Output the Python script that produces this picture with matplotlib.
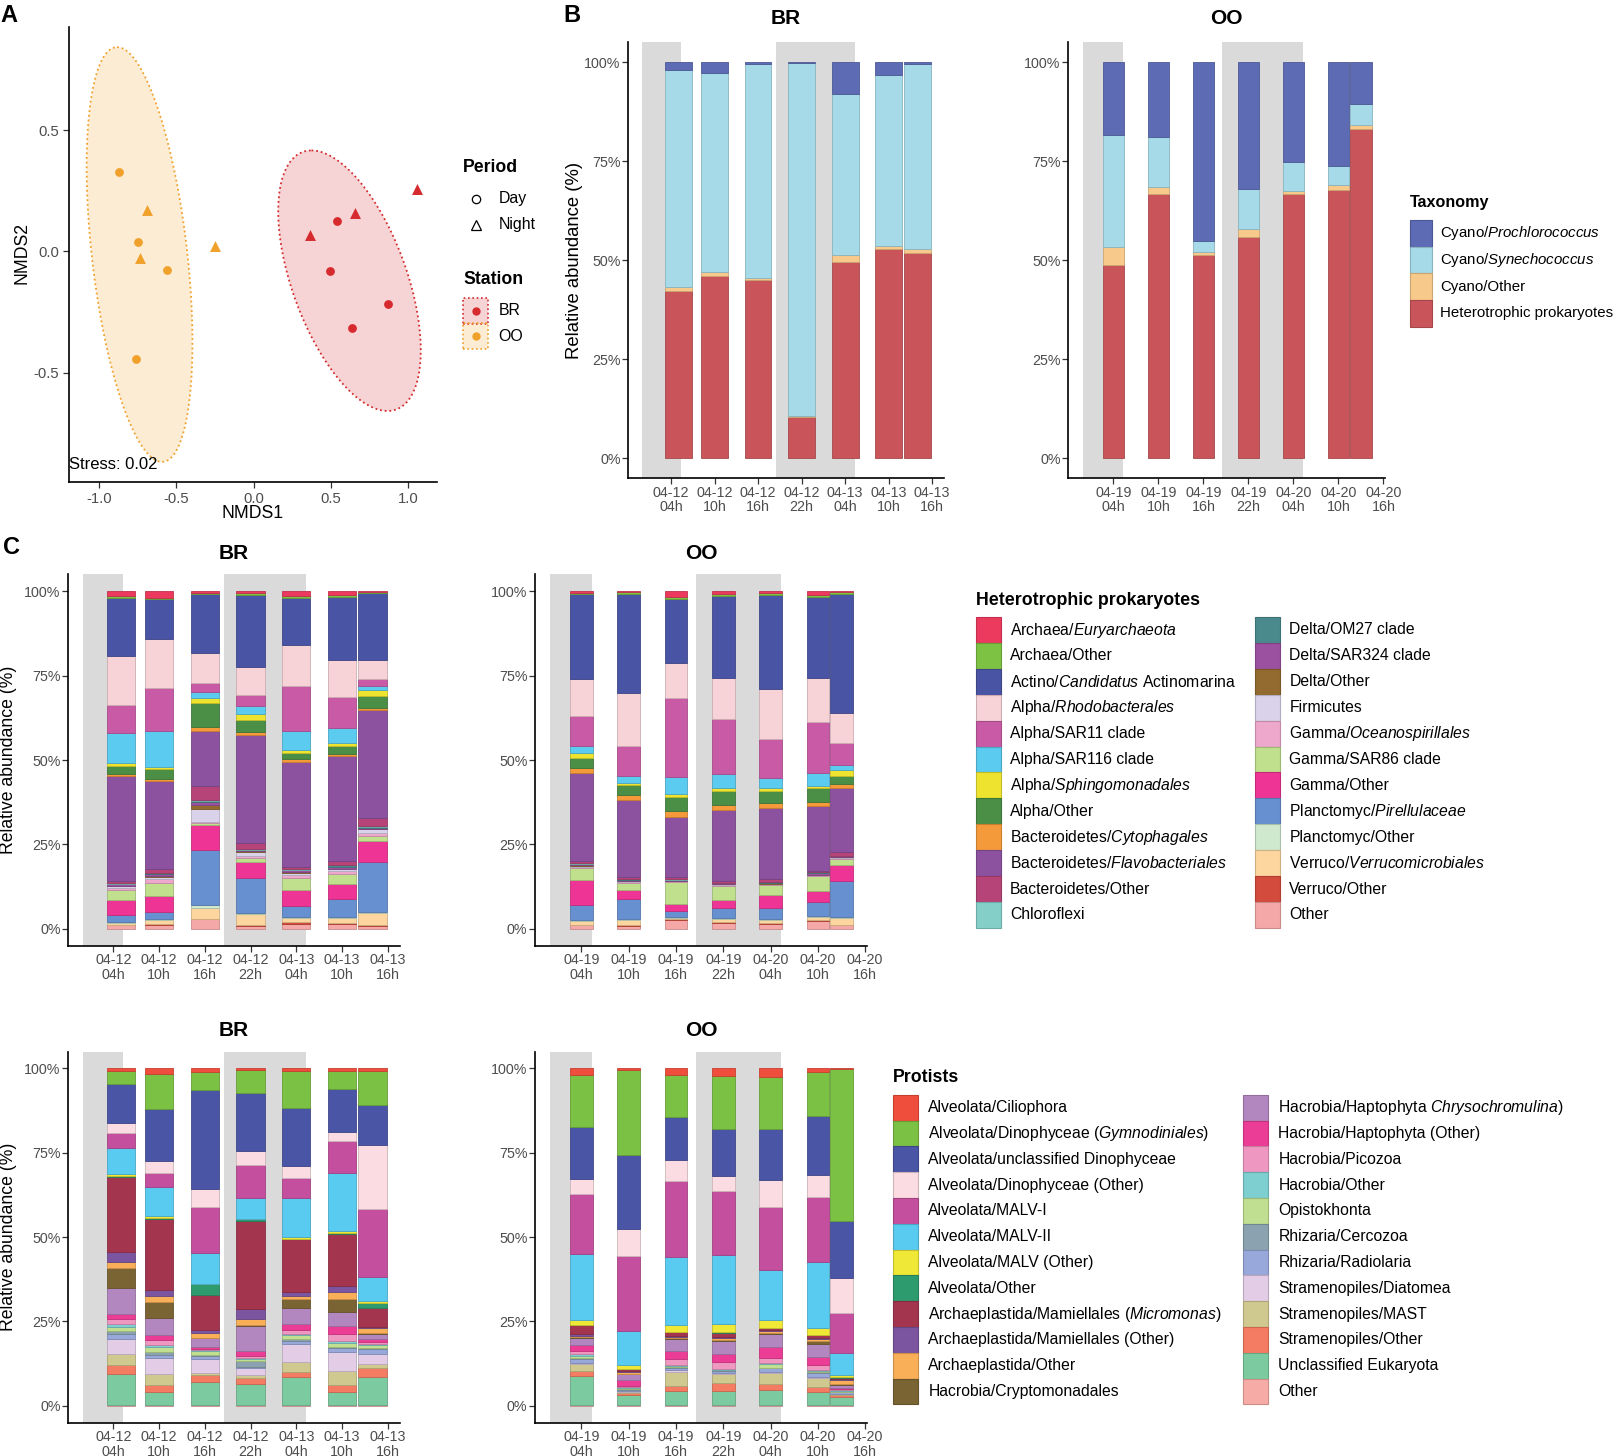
import numpy as np
import matplotlib
matplotlib.use("Agg")
import matplotlib.pyplot as plt
from matplotlib.patches import Rectangle, Polygon
from matplotlib.lines import Line2D
import matplotlib.colors as mcolors

plt.rcParams['font.family'] = ['Liberation Sans', 'DejaVu Sans']
plt.rcParams['mathtext.fontset'] = 'custom'
plt.rcParams['mathtext.rm'] = 'Liberation Sans'
plt.rcParams['mathtext.it'] = 'Liberation Sans:italic'
plt.rcParams['mathtext.bf'] = 'Liberation Sans:bold'

# ======================= DATA =======================
# ---- Panel A: NMDS ----
nmds_station = ['OO'] * 7 + ['BR'] * 7
nmds_period = ['Day', 'Day', 'Day', 'Day', 'Night', 'Night', 'Night',
               'Day', 'Day', 'Day', 'Day', 'Night', 'Night', 'Night']
nmds1 = [-0.871, -0.751, -0.564, -0.762, -0.691, -0.735, -0.254,
         0.539, 0.490, 0.866, 0.634, 1.053, 0.657, 0.361]
nmds2 = [0.328, 0.038, -0.078, -0.444, 0.172, -0.028, 0.022,
         0.126, -0.081, -0.218, -0.317, 0.258, 0.159, 0.066]
stress_text = 'Stress: 0.02'
station_colors = {'BR': '#D62A2E', 'OO': '#F0A12C'}
# 95% ellipses: centre, first and second half-axis vectors
ellipse_center = {'OO': (-0.739, -0.013), 'BR': (0.619, -0.121)}
ellipse_axis1 = {'OO': (-0.145, 0.855), 'BR': (-0.246, 0.537)}
ellipse_axis2 = {'OO': (0.31, 0.0), 'BR': (0.39, 0.0)}

# ---- time axes shared by B and C ----
br_hours = [1, 6, 12, 18, 24, 30, 34]
oo_hours = [0, 6, 12, 18, 24, 30, 33]
tick_hours = [0, 6, 12, 18, 24, 30, 36]
br_ticklabels = ['04-12\n04h', '04-12\n10h', '04-12\n16h', '04-12\n22h',
                 '04-13\n04h', '04-13\n10h', '04-13\n16h']
oo_ticklabels = ['04-19\n04h', '04-19\n10h', '04-19\n16h', '04-19\n22h',
                 '04-20\n04h', '04-20\n10h', '04-20\n16h']
night_periods = [(-4.0, 1.3), (14.5, 25.3)]
pct_ticks = [0, 25, 50, 75, 100]

# ---- Panel B: cyanobacteria vs heterotrophs (per sample: Pro, Syn, Other, Het) ----
cyano_labels = [r'Cyano/$\mathit{Prochlorococcus}$', r'Cyano/$\mathit{Synechococcus}$',
                'Cyano/Other', 'Heterotrophic prokaryotes']
cyano_colors = ['#5D6BB4', '#A6DAE8', '#F7C98A', '#C9555B']
cyano_BR = [[2.1, 54.8, 1.0, 42.1],
            [2.8, 50.2, 1.0, 46.0],
            [0.4, 54.2, 0.4, 45.0],
            [0.3, 89.1, 0.1, 10.5],
            [8.0, 40.7, 1.8, 49.5],
            [3.2, 43.2, 0.7, 52.9],
            [0.6, 46.7, 0.9, 51.8]]
cyano_OO = [[18.3, 28.5, 4.4, 48.8],
            [18.9, 12.6, 1.8, 66.7],
            [45.1, 2.8, 0.7, 51.4],
            [32.0, 10.2, 2.0, 55.8],
            [25.2, 7.3, 0.9, 66.6],
            [26.3, 4.8, 1.2, 67.7],
            [10.7, 5.2, 1.0, 83.1]]

# ---- Panel C (top): heterotrophic prokaryotes ----
het_labels = [r'Archaea/$\mathit{Euryarchaeota}$', 'Archaea/Other',
              r'Actino/$\mathit{Candidatus}$ Actinomarina', r'Alpha/$\mathit{Rhodobacterales}$',
              'Alpha/SAR11 clade', 'Alpha/SAR116 clade', r'Alpha/$\mathit{Sphingomonadales}$',
              'Alpha/Other', r'Bacteroidetes/$\mathit{Cytophagales}$',
              r'Bacteroidetes/$\mathit{Flavobacteriales}$', 'Bacteroidetes/Other', 'Chloroflexi',
              'Delta/OM27 clade', 'Delta/SAR324 clade', 'Delta/Other', 'Firmicutes',
              r'Gamma/$\mathit{Oceanospirillales}$', 'Gamma/SAR86 clade', 'Gamma/Other',
              r'Planctomyc/$\mathit{Pirellulaceae}$', 'Planctomyc/Other',
              r'Verruco/$\mathit{Verrucomicrobiales}$', 'Verruco/Other', 'Other']
het_colors = ['#EC3A5E', '#7DC242', '#4A54A5', '#F7D3D8', '#C95BA6', '#5BCBEF',
              '#EEE42F', '#4B8F47', '#F59A3A', '#8C52A0', '#B64478', '#84D0C9',
              '#4A8A8C', '#9B50A0', '#936A2F', '#D9D2EA', '#EDA8CB', '#C0E08E',
              '#EE3595', '#6690D0', '#CFE9CF', '#FDD69F', '#D34B3C', '#F5A8A8']
het_BR = [[1.5, 0.5, 17.2, 14.4, 8.4, 8.8, 1.0, 2.3, 0.6, 31.1, 0.6, 0.2, 0.1, 0.3, 0.1, 0.6, 0.6, 3.0, 4.4, 2.2, 0.2, 0.6, 0.1, 1.0],
          [1.9, 0.4, 11.9, 14.3, 12.8, 10.7, 0.6, 2.9, 0.7, 26.0, 1.0, 0.2, 0.3, 0.5, 0.2, 0.8, 1.2, 3.7, 4.7, 2.1, 0.2, 1.3, 0.2, 1.2],
          [0.4, 0.5, 17.4, 8.9, 2.8, 1.6, 1.4, 7.1, 1.2, 16.3, 4.3, 0.2, 0.3, 0.8, 1.2, 4.0, 0.4, 0.4, 7.5, 16.3, 0.8, 3.3, 0.1, 2.8],
          [0.5, 0.6, 21.5, 8.1, 3.3, 2.3, 2.0, 3.5, 0.7, 32.3, 1.6, 0.2, 0.2, 0.3, 0.1, 1.2, 0.6, 1.2, 4.9, 10.4, 0.2, 3.4, 0.3, 0.7],
          [1.5, 0.6, 13.8, 12.2, 13.3, 5.7, 0.7, 1.9, 0.7, 31.3, 0.6, 0.1, 0.2, 0.6, 0.2, 0.5, 1.0, 3.6, 4.6, 3.3, 0.2, 1.4, 0.4, 1.5],
          [1.2, 0.5, 18.6, 11.1, 9.1, 4.5, 0.8, 2.4, 0.7, 31.0, 1.0, 0.2, 0.4, 0.6, 0.2, 0.6, 0.8, 2.8, 4.5, 5.4, 0.3, 1.4, 0.5, 1.3],
          [0.2, 0.4, 19.7, 5.6, 2.1, 1.2, 1.9, 3.3, 0.8, 31.7, 2.4, 0.3, 0.3, 0.3, 0.2, 1.2, 0.8, 1.3, 6.3, 14.8, 0.2, 3.8, 0.1, 0.9]]
het_OO = [[0.5, 0.2, 25.2, 11.2, 8.7, 2.2, 1.5, 3.0, 1.3, 26.1, 0.8, 0.1, 0.2, 0.3, 0.1, 0.3, 0.3, 3.6, 7.3, 4.6, 0.2, 1.2, 0.1, 1.1],
          [0.3, 0.4, 29.5, 15.8, 8.9, 2.0, 0.7, 2.7, 1.6, 22.9, 0.5, 0.1, 0.1, 0.3, 0.1, 0.2, 0.3, 2.3, 2.5, 6.1, 0.2, 1.5, 0.3, 0.8],
          [1.7, 0.5, 19.1, 10.4, 23.4, 5.2, 0.7, 4.3, 1.7, 18.0, 0.6, 0.1, 0.1, 0.2, 0.1, 0.1, 0.2, 6.6, 2.0, 1.8, 0.2, 0.3, 0.4, 2.6],
          [0.9, 0.6, 24.4, 12.1, 16.4, 4.0, 0.9, 4.1, 1.7, 21.0, 0.5, 0.1, 0.1, 0.2, 0.1, 0.2, 0.3, 4.0, 2.5, 3.1, 0.2, 1.0, 0.3, 1.6],
          [0.5, 0.6, 28.1, 14.7, 11.7, 3.0, 1.0, 3.5, 1.6, 21.2, 0.7, 0.1, 0.1, 0.2, 0.1, 0.1, 0.2, 3.2, 3.8, 3.3, 0.2, 1.1, 0.2, 1.4],
          [1.2, 0.5, 24.0, 12.9, 15.0, 3.8, 0.8, 4.0, 1.3, 19.0, 0.3, 0.1, 0.2, 0.6, 0.1, 0.1, 0.2, 4.3, 3.3, 4.2, 0.2, 1.1, 0.3, 2.2],
          [0.3, 0.4, 35.6, 8.9, 6.6, 1.5, 1.8, 2.5, 1.1, 19.2, 1.0, 0.1, 0.1, 0.2, 0.1, 0.2, 0.2, 1.8, 4.8, 10.7, 0.3, 2.2, 0.1, 1.0]]

# ---- Panel C (bottom): protists ----
pro_labels = ['Alveolata/Ciliophora', r'Alveolata/Dinophyceae ($\mathit{Gymnodiniales}$)',
              'Alveolata/unclassified Dinophyceae', 'Alveolata/Dinophyceae (Other)',
              'Alveolata/MALV-I', 'Alveolata/MALV-II', 'Alveolata/MALV (Other)', 'Alveolata/Other',
              r'Archaeplastida/Mamiellales ($\mathit{Micromonas}$)', 'Archaeplastida/Mamiellales (Other)',
              'Archaeplastida/Other', 'Hacrobia/Cryptomonadales',
              r'Hacrobia/Haptophyta $\mathit{Chrysochromulina}$)', 'Hacrobia/Haptophyta (Other)',
              'Hacrobia/Picozoa', 'Hacrobia/Other', 'Opistokhonta', 'Rhizaria/Cercozoa',
              'Rhizaria/Radiolaria', 'Stramenopiles/Diatomea', 'Stramenopiles/MAST',
              'Stramenopiles/Other', 'Unclassified Eukaryota', 'Other']
pro_colors = ['#F04E3C', '#7BC143', '#4B55A6', '#FADCE2', '#C44F9E', '#59CBF0',
              '#F0E836', '#2E9B6E', '#A3354F', '#7B55A0', '#F9AE58', '#7A6433',
              '#B286BE', '#EC3D96', '#EE97C1', '#7ECFD0', '#C0DF90', '#8BA3B0',
              '#98A8DA', '#E2CCE6', '#D0C98F', '#F47C62', '#7CCBA0', '#F7ABA6']
pro_BR = [[0.8, 3.9, 11.5, 3.0, 4.4, 7.8, 0.6, 0.1, 22.4, 3.1, 1.7, 5.9, 7.6, 1.6, 1.5, 0.9, 1.0, 1.0, 1.4, 4.5, 3.3, 2.7, 9.3, 0.1],
          [1.6, 10.4, 15.6, 3.4, 4.2, 8.7, 0.6, 0.3, 21.1, 1.5, 1.9, 4.7, 5.0, 1.5, 1.7, 0.6, 1.5, 0.6, 0.9, 4.9, 3.2, 2.0, 4.1, 0.1],
          [1.1, 5.2, 29.4, 5.5, 13.6, 9.1, 0.1, 3.3, 10.3, 0.8, 1.4, 0.2, 2.5, 0.6, 0.4, 0.3, 1.2, 0.3, 0.7, 4.4, 0.5, 2.0, 7.0, 0.1],
          [0.4, 6.8, 17.4, 4.1, 9.9, 6.1, 0.2, 0.4, 26.3, 3.0, 1.7, 0.3, 7.5, 1.4, 0.7, 0.3, 0.7, 1.7, 0.3, 2.0, 1.0, 1.7, 6.4, 0.1],
          [0.9, 10.8, 17.2, 3.7, 5.9, 11.5, 0.6, 0.2, 15.6, 1.2, 1.0, 2.6, 4.7, 1.8, 1.2, 0.3, 1.3, 0.4, 1.0, 5.4, 3.0, 1.3, 8.5, 0.1],
          [0.7, 5.3, 12.8, 2.7, 9.7, 17.0, 0.8, 0.2, 15.4, 1.7, 2.3, 3.7, 4.2, 2.5, 1.9, 0.8, 1.0, 0.3, 1.2, 5.7, 4.1, 2.0, 4.1, 0.1],
          [0.8, 10.2, 11.6, 19.0, 20.2, 7.2, 0.5, 1.7, 5.4, 0.4, 1.6, 0.3, 1.5, 0.8, 0.6, 0.2, 1.1, 0.3, 1.4, 3.0, 1.0, 2.8, 8.4, 0.1]]
pro_OO = [[1.9, 15.6, 15.3, 4.4, 17.9, 19.7, 1.3, 0.1, 2.6, 0.5, 0.5, 0.3, 1.9, 1.8, 0.9, 0.6, 0.7, 0.3, 1.0, 0.4, 2.0, 1.6, 8.7, 0.1],
          [0.6, 25.0, 22.2, 7.8, 22.3, 10.1, 1.3, 0.1, 0.5, 0.2, 0.6, 0.2, 1.8, 1.5, 0.4, 0.4, 0.3, 0.2, 0.3, 0.2, 0.3, 0.7, 3.1, 0.1],
          [1.9, 12.5, 12.8, 6.1, 22.7, 20.0, 2.0, 0.1, 1.1, 0.3, 0.3, 0.4, 3.5, 2.5, 1.5, 0.3, 0.3, 0.3, 0.8, 0.4, 4.2, 1.5, 4.3, 0.1],
          [2.4, 15.6, 13.9, 4.4, 18.8, 20.5, 2.5, 0.1, 1.3, 0.3, 0.6, 0.3, 3.8, 2.3, 2.0, 0.3, 0.2, 0.3, 0.6, 0.3, 2.7, 2.2, 4.3, 0.1],
          [2.6, 15.3, 15.1, 8.1, 18.8, 14.8, 2.2, 0.1, 0.6, 0.3, 0.5, 0.3, 4.1, 3.0, 1.7, 0.3, 1.0, 0.2, 1.0, 0.3, 3.4, 1.6, 4.7, 0.1],
          [1.2, 12.9, 17.4, 6.6, 19.5, 19.4, 2.0, 0.1, 0.8, 0.3, 0.7, 1.0, 3.8, 2.4, 1.3, 0.3, 0.3, 0.3, 1.2, 0.3, 2.7, 1.5, 4.0, 0.1],
          [0.1, 45.5, 17.3, 10.2, 12.2, 6.5, 0.7, 0.2, 0.3, 0.3, 1.2, 0.3, 0.8, 0.4, 0.3, 0.2, 0.3, 0.2, 0.4, 0.2, 0.2, 0.5, 2.6, 0.1]]

# ======================= FIGURE =======================
W, H = 1617, 1456
fig = plt.figure(figsize=(W / 100, H / 100), dpi=100)


def fx(x):
    return x / W


def fy(y):
    return 1 - y / H


def px_axes(l, t, r, b):
    return fig.add_axes([l / W, 1 - b / H, (r - l) / W, (b - t) / H])


def darker(c, f=0.82):
    r, g, b = mcolors.to_rgb(c)
    return (r * f, g * f, b * f)


def style_axes(ax):
    for s in ['top', 'right']:
        ax.spines[s].set_visible(False)
    for s in ['left', 'bottom']:
        ax.spines[s].set_linewidth(1.2)
        ax.spines[s].set_color('black')
    ax.tick_params(length=4, width=0.9, color='#333333', labelcolor='#4D4D4D',
                   labelsize=10.3, pad=1.5)


def bar_panel(ax, hours, width, samples, colors, xlim, ticklabels):
    vals = np.array(samples, float)
    vals = vals / vals.sum(axis=1, keepdims=True) * 100.0
    for a, b in night_periods:
        ax.axvspan(a, b, color='#DADADA', lw=0, zorder=0)
    bottom = np.zeros(len(hours))
    for k in range(vals.shape[1] - 1, -1, -1):
        ax.bar(hours, vals[:, k], width=width, bottom=bottom, color=colors[k],
               edgecolor=darker(colors[k]), linewidth=0.6, zorder=2)
        bottom += vals[:, k]
    ax.set_xlim(*xlim)
    ax.set_ylim(-5, 105)
    ax.set_xticks(tick_hours)
    ax.set_xticklabels(ticklabels, linespacing=1.05)
    ax.set_yticks(pct_ticks)
    ax.set_yticklabels([f'{p}%' for p in pct_ticks])
    style_axes(ax)


def ellipse_points(center, a1, a2, segments=120):
    t = np.linspace(0, 2 * np.pi, segments + 1)
    c = np.array(center)
    return (c[None, :] + np.cos(t)[:, None] * np.array(a1)[None, :]
            + np.sin(t)[:, None] * np.array(a2)[None, :])


# ---------------- Panel A ----------------
axA = px_axes(68.9, 26.7, 437.3, 482.3)
n1 = np.array(nmds1)
n2 = np.array(nmds2)
for st in ['OO', 'BR']:
    col = station_colors[st]
    idx = [i for i, s in enumerate(nmds_station) if s == st]
    E = ellipse_points(ellipse_center[st], ellipse_axis1[st], ellipse_axis2[st])
    axA.add_patch(Polygon(E, closed=True, facecolor=col, alpha=0.2, lw=0, zorder=1))
    axA.add_patch(Polygon(E, closed=True, fill=False, edgecolor=col, lw=1.3,
                          ls=(0, (1, 1.6)), zorder=1.5))
    for per, mk, sz in [('Day', 'o', 40), ('Night', '^', 62)]:
        j = [i for i in idx if nmds_period[i] == per]
        axA.scatter(n1[j], n2[j], marker=mk, s=sz, color=col, lw=0, zorder=3)
axA.set_xlim(-1.196, 1.187)
axA.set_ylim(-0.952, 0.926)
axA.set_xticks([-1.0, -0.5, 0.0, 0.5, 1.0])
axA.set_xticklabels(['-1.0', '-0.5', '0.0', '0.5', '1.0'])
axA.set_yticks([-0.5, 0.0, 0.5])
axA.set_yticklabels(['-0.5', '0.0', '0.5'])
style_axes(axA)
axA.tick_params(labelsize=10.7, pad=3)
axA.text(0.0, 0.038, stress_text, transform=axA.transAxes, ha='left', va='center',
         fontsize=12, color='black', zorder=4)
fig.text(fx(253), fy(513), 'NMDS1', ha='center', va='center', fontsize=12.7)
fig.text(fx(21.5), fy(253), 'NMDS2', ha='center', va='center', fontsize=12.7, rotation=90)

# legend A
fig.text(fx(463), fy(168), 'Period', ha='left', va='center', fontsize=12.7, weight='bold')
for lab, mk, yy, ms in [('Day', 'o', 199, 6.0), ('Night', '^', 225, 7.0)]:
    fig.add_artist(Line2D([fx(475.5)], [fy(yy)], marker=mk, markersize=ms, markerfacecolor='none',
                          markeredgecolor='black', markeredgewidth=0.9, transform=fig.transFigure))
    fig.text(fx(498.6), fy(yy), lab, ha='left', va='center', fontsize=11.4)
fig.text(fx(463), fy(280), 'Station', ha='left', va='center', fontsize=12.7, weight='bold')
for st, top in [('BR', 298), ('OO', 323.5)]:
    col = station_colors[st]
    fig.add_artist(Rectangle((fx(463), fy(top + 25.5)), 25 / W, 25.5 / H, transform=fig.transFigure,
                             facecolor=col, alpha=0.2, lw=0))
    fig.add_artist(Rectangle((fx(463), fy(top + 25.5)), 25 / W, 25.5 / H, transform=fig.transFigure,
                             fill=False, edgecolor=col, lw=1.2, ls=(0, (1, 1.6))))
    fig.add_artist(Line2D([fx(475.5)], [fy(top + 12.75)], marker='o', markersize=6.0, color=col,
                          markeredgewidth=0, transform=fig.transFigure))
    fig.text(fx(498.6), fy(top + 12.75), st, ha='left', va='center', fontsize=11.4)

# ---------------- Panel B ----------------
axB1 = px_axes(628.3, 42.3, 943.7, 478)
bar_panel(axB1, br_hours, 3.7, cyano_BR, cyano_colors, (-5.9, 37.6), br_ticklabels)
axB2 = px_axes(1068.3, 42.3, 1385, 478)
bar_panel(axB2, oo_hours, 2.87, cyano_OO, cyano_colors, (-6.0, 36.2), oo_ticklabels)
fig.text(fx(786), fy(18.3), 'BR', ha='center', va='center', fontsize=15, weight='bold')
fig.text(fx(1226.7), fy(18.3), 'OO', ha='center', va='center', fontsize=15, weight='bold')
fig.text(fx(574), fy(260), 'Relative abundance (%)', ha='center', va='center', fontsize=13.3, rotation=90)

fig.text(fx(1410), fy(202.7), 'Taxonomy', ha='left', va='center', fontsize=11.6, weight='bold')
for k, lab in enumerate(cyano_labels):
    top = 220 + 26.7 * k
    fig.add_artist(Rectangle((fx(1410), fy(top + 26.7)), 21.7 / W, 26.7 / H, transform=fig.transFigure,
                             facecolor=cyano_colors[k], edgecolor=darker(cyano_colors[k]), lw=0.8))
    fig.text(fx(1440), fy(top + 13.35), lab, ha='left', va='center', fontsize=10.8)

# ---------------- Panel C ----------------
axC1 = px_axes(68.3, 574.3, 400, 945.7)
bar_panel(axC1, br_hours, 3.7, het_BR, het_colors, (-5.9, 37.6), br_ticklabels)
axC2 = px_axes(535, 574.3, 866.7, 945.7)
bar_panel(axC2, oo_hours, 2.87, het_OO, het_colors, (-5.87, 36.2), oo_ticklabels)
axC3 = px_axes(68.3, 1051.5, 400, 1422.6)
bar_panel(axC3, br_hours, 3.7, pro_BR, pro_colors, (-5.9, 37.6), br_ticklabels)
axC4 = px_axes(535, 1051.5, 866.7, 1422.6)
bar_panel(axC4, oo_hours, 2.87, pro_OO, pro_colors, (-5.87, 36.2), oo_ticklabels)

fig.text(fx(234), fy(553.3), 'BR', ha='center', va='center', fontsize=15, weight='bold')
fig.text(fx(701), fy(553.3), 'OO', ha='center', va='center', fontsize=15, weight='bold')
fig.text(fx(234), fy(1030), 'BR', ha='center', va='center', fontsize=15, weight='bold')
fig.text(fx(701), fy(1030), 'OO', ha='center', va='center', fontsize=15, weight='bold')
fig.text(fx(9), fy(760), 'Relative abundance (%)', ha='center', va='center', fontsize=12.7, rotation=90)
fig.text(fx(9), fy(1237), 'Relative abundance (%)', ha='center', va='center', fontsize=12.7, rotation=90)


def two_col_legend(title, tx, ty, labels, colors, keyx, labx, y0, dy, keyw, fs):
    fig.text(fx(tx), fy(ty), title, ha='left', va='center', fontsize=12.8, weight='bold')
    half = (len(labels) + 1) // 2
    for k, lab in enumerate(labels):
        c = 0 if k < half else 1
        r = k if k < half else k - half
        yc = y0 + dy * r
        fig.add_artist(Rectangle((fx(keyx[c]), fy(yc + dy / 2)), keyw / W, dy / H,
                                 transform=fig.transFigure, facecolor=colors[k],
                                 edgecolor=darker(colors[k]), lw=0.8))
        fig.text(fx(labx[c]), fy(yc), lab, ha='left', va='center', fontsize=fs)


two_col_legend('Heterotrophic prokaryotes', 976, 600.7, het_labels, het_colors,
               (976, 1255.2), (1010, 1289.3), 630, 25.9, 24.5, 11.3)
two_col_legend('Protists', 893.3, 1078, pro_labels, pro_colors,
               (893.3, 1243.3), (928.3, 1278.3), 1107.7, 25.8, 24.5, 11.3)

# panel letters
fig.text(fx(9), fy(15), 'A', ha='center', va='center', fontsize=17, weight='bold')
fig.text(fx(571.5), fy(15), 'B', ha='center', va='center', fontsize=17, weight='bold')
fig.text(fx(11), fy(548), 'C', ha='center', va='center', fontsize=17, weight='bold')

fig.savefig('out.png', dpi=100)
